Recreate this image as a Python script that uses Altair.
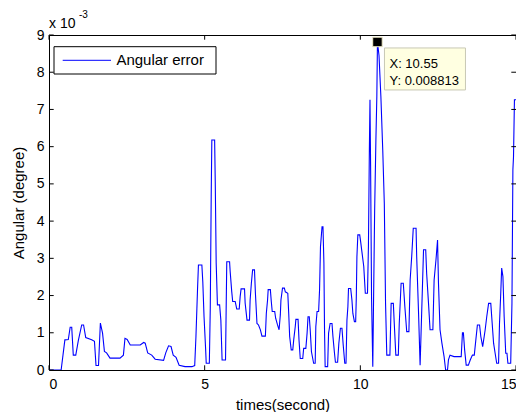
import altair as alt
import pandas as pd

# ---- data (angular error in units of 1e-3 degree) ----
times = [
    0.00, 0.39, 0.51, 0.62, 0.68, 0.73, 0.78, 0.86, 0.94, 1.05, 1.11, 1.18, 1.37, 1.46, 1.51, 1.59,
    1.65, 1.72, 1.78, 1.85, 1.96, 2.28, 2.39, 2.44, 2.51, 2.61, 2.93, 3.04, 3.09, 3.17, 3.30, 3.41,
    3.68, 3.75, 3.84, 3.92, 3.99, 4.08, 4.18, 4.37, 4.59, 4.68, 4.72, 4.77, 4.80,
    4.91, 4.94, 4.98, 5.03, 5.05, 5.15, 5.18, 5.21, 5.23, 5.32, 5.34, 5.37, 5.41, 5.48, 5.52, 5.56,
    5.67, 5.69, 5.71, 5.80, 5.82, 5.87, 5.90, 5.98, 6.03, 6.11, 6.14, 6.17, 6.28, 6.30, 6.36, 6.44,
    6.46, 6.50, 6.54, 6.60, 6.63, 6.68, 6.73, 6.79, 6.84, 6.95, 6.98, 7.02, 7.04, 7.11, 7.14, 7.17,
    7.25, 7.28, 7.34, 7.39, 7.43, 7.45, 7.50, 7.56, 7.59, 7.67, 7.70, 7.73, 7.78, 7.83, 7.86, 7.91,
    7.93, 8.00, 8.03, 8.07,
    8.15, 8.18, 8.25, 8.29, 8.32, 8.36, 8.39, 8.43, 8.50, 8.55, 8.57, 8.61, 8.66, 8.69, 8.72, 8.77,
    8.80, 8.83, 8.85, 8.87, 8.95, 8.98, 9.03, 9.09, 9.12, 9.17, 9.20, 9.27, 9.31, 9.36, 9.41, 9.45,
    9.50, 9.54, 9.57, 9.60, 9.62, 9.69, 9.73, 9.76, 9.81, 9.85, 9.87, 9.89, 9.92, 9.98, 10.01, 10.05,
    10.11, 10.16, 10.23, 10.26, 10.29, 10.31, 10.33, 10.36, 10.40, 10.42, 10.46, 10.50, 10.53, 10.55,
    10.60, 10.66,
    10.72, 10.77, 10.81, 10.85, 10.95, 10.99, 11.06, 11.09, 11.14, 11.22, 11.25, 11.31, 11.38, 11.43,
    11.49, 11.56, 11.60, 11.65, 11.70, 11.79, 11.81, 11.87, 11.92, 11.97, 12.03, 12.10, 12.13, 12.19,
    12.24, 12.33, 12.37, 12.43, 12.48, 12.51, 12.56, 12.62, 12.69, 12.74, 12.80, 12.83, 12.88, 13.01,
    13.24, 13.28, 13.31, 13.35, 13.40, 13.47, 13.53, 13.60, 13.66, 13.71, 13.76, 13.83, 13.87, 13.93,
    14.01, 14.06, 14.12, 14.19, 14.22, 14.28, 14.33, 14.38, 14.44, 14.47, 14.51, 14.54, 14.58, 14.62,
    14.67, 14.71, 14.74, 14.83, 14.87, 14.90, 14.92, 14.95, 15.00,
]
angular_err = [
    0.00, 0.00, 0.81, 0.82, 1.15, 1.15, 0.40, 0.40, 0.78, 1.21, 1.21, 0.87, 0.81, 0.77, 0.12, 0.12,
    1.26, 0.99, 0.50, 0.46, 0.32, 0.32, 0.40, 0.85, 0.82, 0.67, 0.67, 0.74, 0.72, 0.46, 0.40, 0.29,
    0.26, 0.46, 0.65, 0.63, 0.40, 0.34, 0.13, 0.09, 0.09, 0.12, 0.90, 2.15, 2.82,
    2.82, 2.37, 1.43, 0.58, 0.18, 0.18, 1.66, 4.66, 6.18, 6.18, 5.06, 2.87, 1.75, 1.75, 1.34, 0.27,
    0.27, 1.61, 2.91, 2.91, 2.64, 2.10, 1.84, 1.84, 1.64, 1.64, 1.97, 2.18, 2.18, 1.80, 1.34, 1.34,
    1.88, 2.33, 2.69, 2.69, 2.06, 1.25, 1.21, 1.08, 0.91, 0.91, 1.52, 1.88, 2.16, 2.16, 1.84, 1.57,
    1.57, 1.39, 1.21, 1.08, 1.48, 1.88, 2.20, 2.20, 2.10, 2.06, 1.52, 0.90, 0.54, 0.54, 0.81, 1.17,
    1.36, 1.36, 0.81, 0.31,
    0.31, 0.58, 0.58, 0.99, 1.43, 1.43, 1.08, 0.49, 0.18, 0.18, 1.16, 1.57, 1.57, 2.15, 3.31, 3.85,
    3.85, 2.87, 1.08, 0.09, 0.09, 0.99, 1.25, 1.25, 0.90, 0.45, 0.21, 0.21, 0.72, 1.12, 1.12, 0.67,
    0.18, 0.18, 1.34, 1.70, 2.19, 2.19, 1.88, 1.52, 1.30, 1.30, 1.93, 3.04, 3.63, 3.63, 3.45, 3.18,
    2.78, 2.06, 2.06, 3.32, 5.91, 7.26, 5.47, 1.97, 0.09, 1.53, 4.30, 6.18, 7.35, 8.813,
    8.45, 7.35,
    5.91, 4.48, 1.79, 0.40, 0.40, 1.79, 1.79, 1.25, 0.40, 0.40, 1.25, 2.33, 2.33, 1.70,
    1.03, 1.03, 2.42, 3.05, 3.81, 3.81, 3.05, 1.53, 0.13, 1.53, 3.23, 3.23, 2.60, 1.79,
    1.08, 1.08, 2.42, 2.96, 3.49, 2.33, 1.08, 0.72, 0.36, 0.00, 0.00, 0.27, 0.40, 0.36,
    0.36, 1.00, 1.00, 0.54, 0.13, 0.13, 0.27, 0.40, 0.40, 0.81, 1.21, 1.21, 0.90, 0.63,
    1.08, 1.43, 1.79, 1.79, 1.43, 0.72, 0.45, 0.18, 0.18, 1.25, 2.06, 2.74, 2.51, 1.43,
    0.45, 0.45, 0.18, 0.18, 1.79, 5.38, 5.73, 7.26, 7.26,
]
x_ticks = [0, 5, 10, 15]
y_ticks = [0, 1, 2, 3, 4, 5, 6, 7, 8, 9]
tip_time = [10.55]
tip_value = [8.813]
legend_label = ["Angular error"]

W, H = 467, 335
FONT = "Liberation Sans"
TICK = 4.7

df = pd.DataFrame({"time": times, "err": angular_err})
xscale = alt.Scale(domain=[0, 15], nice=False, zero=False)
yscale = alt.Scale(domain=[0, 9], nice=False, zero=False)

x_axis = alt.Axis(values=x_ticks, ticks=False, tickSize=0, domain=False, grid=False,
                  labelFontSize=14, labelColor="black", labelPadding=7, labelFont=FONT,
                  title="times(second)", titleFontSize=15, titleFontWeight="normal",
                  titleColor="black", titleFont=FONT, titlePadding=6)
y_axis = alt.Axis(values=y_ticks, ticks=False, tickSize=0, domain=False, grid=False,
                  labelFontSize=14, labelColor="black", labelPadding=5, labelFont=FONT,
                  title="Angular (degree)", titleFontSize=15, titleFontWeight="normal",
                  titleColor="black", titleFont=FONT, titlePadding=10)

X = alt.X("time:Q", scale=xscale, axis=x_axis, title="times(second)")
Y = alt.Y("err:Q", scale=yscale, axis=y_axis, title="Angular (degree)")

line = alt.Chart(df).mark_line(color="#0000ff", strokeWidth=1.1, clip=True).encode(x=X, y=Y)

xt = pd.DataFrame({"time": x_ticks})
yt = pd.DataFrame({"err": y_ticks})
tick_bottom = alt.Chart(xt).mark_rule(color="black", strokeWidth=1).encode(
    x=X, y=alt.value(H), y2=alt.value(H - TICK))
tick_top = alt.Chart(xt).mark_rule(color="black", strokeWidth=1).encode(
    x=X, y=alt.value(0), y2=alt.value(TICK))
tick_left = alt.Chart(yt).mark_rule(color="black", strokeWidth=1).encode(
    y=Y, x=alt.value(0), x2=alt.value(TICK))
tick_right = alt.Chart(yt).mark_rule(color="black", strokeWidth=1).encode(
    y=Y, x=alt.value(W), x2=alt.value(W - TICK))

tip_df = pd.DataFrame({
    "time": tip_time, "err": tip_value,
    "lx": [f"X: {v:g}" for v in tip_time],
    "ly": [f"Y: {v * 1e-3:.6f}" for v in tip_value],
})
tip_box = alt.Chart(tip_df).mark_rect(
    fill="#ffffe1", stroke="#c8c8b4", strokeWidth=1,
    xOffset=7, x2Offset=88, yOffset=6, y2Offset=48,
).encode(x=X, y=Y, x2=alt.X2("time"), y2=alt.Y2("err"))
tip_marker = alt.Chart(tip_df).mark_square(
    size=90, fill="black", stroke="#f0ecc8", strokeWidth=1, opacity=1, filled=True
).encode(x=X, y=Y)
tip_text1 = alt.Chart(tip_df).mark_text(
    align="left", baseline="alphabetic", dx=12, dy=26, fontSize=13, font=FONT, color="black"
).encode(x=X, y=Y, text="lx:N")
tip_text2 = alt.Chart(tip_df).mark_text(
    align="left", baseline="alphabetic", dx=12, dy=43, fontSize=13, font=FONT, color="black"
).encode(x=X, y=Y, text="ly:N")

leg_df = pd.DataFrame({"label": legend_label})
leg_box = alt.Chart(leg_df).mark_rect(fill="white", stroke="black", strokeWidth=1).encode(
    x=alt.value(5), x2=alt.value(167), y=alt.value(11.7), y2=alt.value(39))
leg_line = alt.Chart(leg_df).mark_rule(color="#0000ff", strokeWidth=1).encode(
    x=alt.value(13.7), x2=alt.value(62), y=alt.value(25.3))
leg_text = alt.Chart(leg_df).mark_text(
    align="left", baseline="alphabetic", fontSize=15, font=FONT, color="black"
).encode(x=alt.value(67.4), y=alt.value(30), text="label:N")

exp_df = pd.DataFrame({"a": ["x 10"], "b": ["-3"]})
exp_base = alt.Chart(exp_df).mark_text(
    align="left", baseline="alphabetic", fontSize=14, font=FONT, color="black"
).encode(x=alt.value(0), y=alt.value(-6.7), text="a:N")
exp_sup = alt.Chart(exp_df).mark_text(
    align="left", baseline="alphabetic", fontSize=10, font=FONT, color="black"
).encode(x=alt.value(30), y=alt.value(-16.7), text="b:N")

chart = alt.layer(
    line, tick_bottom, tick_top, tick_left, tick_right,
    leg_box, leg_line, leg_text,
    tip_box, tip_marker, tip_text1, tip_text2,
    exp_base, exp_sup,
).properties(
    width=W, height=H,
    autosize=alt.AutoSizeParams(type="none"),
    padding={"left": 41, "top": 27, "right": 0, "bottom": 42},
    background="white",
).configure(font=FONT).configure_view(stroke="black", strokeWidth=1)

chart.save("out.html", embed_options={"renderer": "svg", "actions": False})
